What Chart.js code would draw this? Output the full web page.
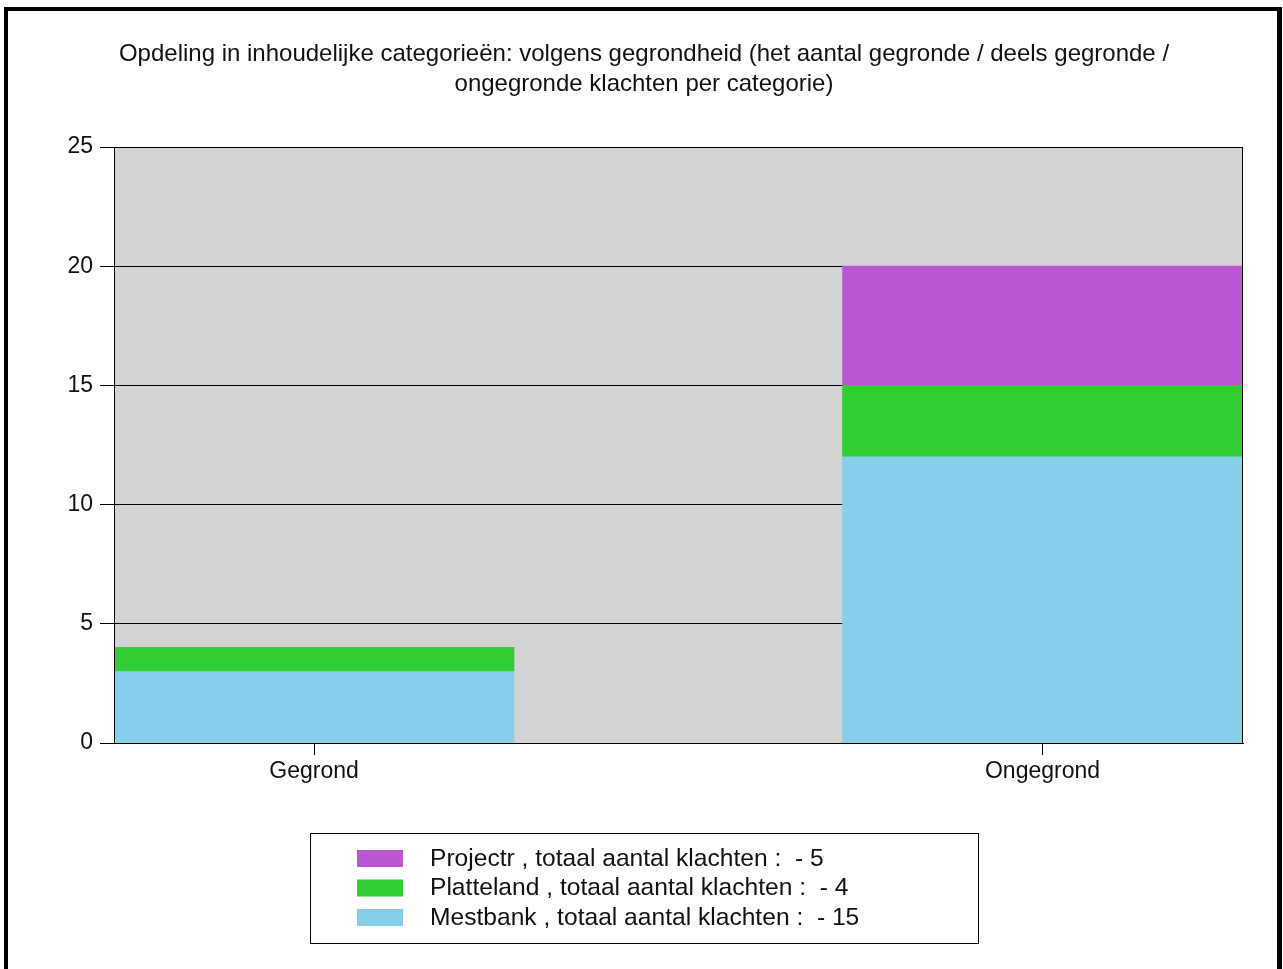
<!DOCTYPE html>
<html>
<head>
<meta charset="utf-8">
<script src="https://cdn.jsdelivr.net/npm/chart.js@4/dist/chart.umd.min.js"></script>
<style>
  html, body { margin: 0; padding: 0; background: #fff; }
  #wrap { position: relative; width: 1283px; height: 969px; }
</style>
</head>
<body>
<div id="wrap"><canvas id="chart"></canvas></div>
<script>
var FONT = '"Liberation Sans", Arial, sans-serif';

var categories = ['Gegrond', 'Ongegrond'];
var seriesNames = ['Mestbank', 'Platteland', 'Projectr'];
var mestbank = [3, 12];
var platteland = [1, 3];
var projectr = [0, 5];
var yTicks = [0, 5, 10, 15, 20, 25];
var titleLines = [
  'Opdeling in inhoudelijke categorieën: volgens gegrondheid (het aantal gegronde / deels gegronde /',
  'ongegronde klachten per categorie)'
];
var COLORS = ['#87ceeb', '#32cd32', '#ba55d3'];

function toPoints(vals) {
  return vals.map(function(v, i) { return { x: i, y: v }; });
}
function sum(vals) {
  return vals.reduce(function(a, b) { return a + b; }, 0);
}

var seriesValues = [mestbank, platteland, projectr];
var datasets = seriesNames.map(function(name, i) {
  return {
    label: name,
    data: toPoints(seriesValues[i]),
    backgroundColor: COLORS[i],
    borderWidth: 0,
    barThickness: 400
  };
});

// background, outer frame, title
var framePlugin = {
  id: 'frame',
  beforeDraw: function(chart) {
    var ctx = chart.ctx, a = chart.chartArea;
    ctx.save();
    ctx.fillStyle = '#fff';
    ctx.fillRect(0, 0, chart.width, chart.height);
    ctx.fillStyle = '#000';
    ctx.fillRect(4, 7, 4, chart.height - 7);
    ctx.fillRect(4, 7, chart.width - 6, 4);
    ctx.fillRect(chart.width - 6, 7, 5, chart.height - 7);
    ctx.fillStyle = '#d3d3d3';
    ctx.fillRect(a.left, a.top, a.right - a.left, a.bottom - a.top);
    ctx.fillStyle = '#111';
    ctx.font = '24px ' + FONT;
    ctx.textAlign = 'center';
    ctx.textBaseline = 'middle';
    titleLines.forEach(function(t, i) {
      ctx.fillText(t, 644, 54 + i * 30);
    });
    ctx.restore();
  },
  afterDatasetsDraw: function(chart) {
    var ctx = chart.ctx, a = chart.chartArea;
    ctx.save();
    ctx.strokeStyle = '#000';
    ctx.lineWidth = 1;
    ctx.strokeRect(a.left + 0.5, a.top + 0.5, a.right - a.left - 1, a.bottom - a.top);
    ctx.restore();
  },
  afterDraw: function(chart) {
    var ctx = chart.ctx;
    ctx.save();
    ctx.strokeStyle = '#000';
    ctx.lineWidth = 1;
    ctx.strokeRect(310.5, 833.5, 668, 110);
    ctx.font = '24.6px ' + FONT;
    ctx.textAlign = 'left';
    ctx.textBaseline = 'middle';
    // legend lists the last series first
    for (var k = 0; k < seriesNames.length; k++) {
      var i = seriesNames.length - 1 - k;
      var y = 859 + k * 29.5;
      ctx.fillStyle = COLORS[i];
      ctx.fillRect(357, y - 9, 46, 17);
      ctx.fillStyle = '#111';
      ctx.fillText(seriesNames[i] + ' , totaal aantal klachten :  - ' + sum(seriesValues[i]), 430, y);
    }
    ctx.restore();
  }
};

new Chart(document.getElementById('chart'), {
  type: 'bar',
  data: { datasets: datasets },
  plugins: [framePlugin],
  options: {
    responsive: true,
    maintainAspectRatio: false,
    animation: false,
    layout: { padding: { left: 0, right: 40, top: 147, bottom: 176 } },
    plugins: {
      legend: { display: false },
      title: { display: false },
      tooltip: { enabled: false }
    },
    scales: {
      x: {
        type: 'linear',
        stacked: true,
        offset: false,
        min: -0.27454,
        max: 1.27522,
        afterBuildTicks: function(scale) {
          scale.ticks = categories.map(function(c, i) { return { value: i }; });
        },
        afterFit: function(scale) { scale.height = 50; },
        ticks: {
          color: '#111',
          font: { family: FONT, size: 23 },
          padding: 3,
          callback: function(v) { return categories[v]; }
        },
        grid: { offset: false, drawOnChartArea: false, drawTicks: true, tickLength: 12, color: '#000' },
        border: { color: '#000' }
      },
      y: {
        stacked: true,
        min: 0,
        max: 25,
        afterBuildTicks: function(scale) {
          scale.ticks = yTicks.map(function(v) { return { value: v }; });
        },
        afterFit: function(scale) { scale.width = 114; },
        ticks: {
          color: '#111',
          font: { family: FONT, size: 23 },
          padding: 7
        },
        grid: { color: '#000', tickLength: 14 },
        border: { color: '#000' }
      }
    }
  }
});
</script>
</body>
</html>
